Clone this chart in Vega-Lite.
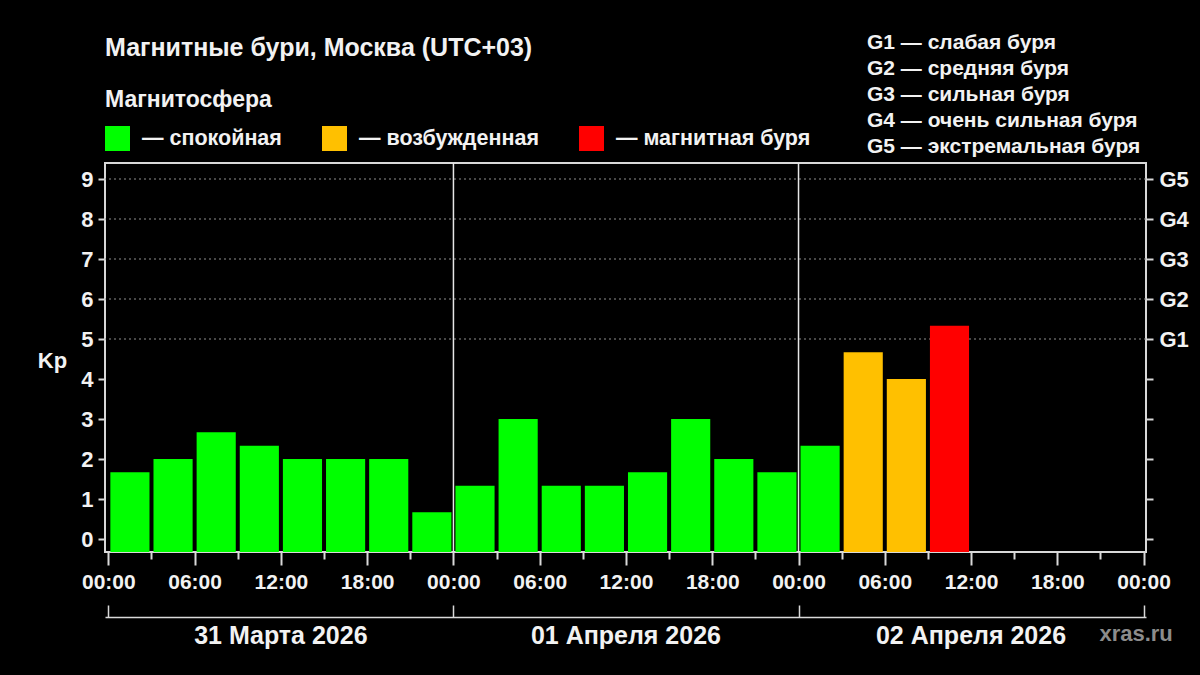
{
  "$schema": "https://vega.github.io/schema/vega-lite/v6.json",
  "width": 1041,
  "height": 389,
  "autosize": {"type": "none"},
  "padding": {"left": 105, "top": 163, "right": 54, "bottom": 123},
  "background": "black",
  "config": {
    "view": {"stroke": "#d9d9d9", "strokeWidth": 2, "fill": "black"},
    "font": "Liberation Sans"
  },
  "title": {
    "text": "Магнитные бури, Москва (UTC+03)",
    "anchor": "start",
    "frame": "group",
    "color": "#f2f2f2",
    "fontSize": 25,
    "fontWeight": "bold",
    "offset": -29
  },
  "resolve": {
    "scale": {"x": "independent", "y": "independent", "color": "independent"},
    "axis": {"x": "independent", "y": "independent"},
    "legend": {"color": "independent"}
  },
  "layer": [
    {
      "data": {"values": [
        {"kp": 5, "g": "G1 — слабая буря"},
        {"kp": 6, "g": "G2 — средняя буря"},
        {"kp": 7, "g": "G3 — сильная буря"},
        {"kp": 8, "g": "G4 — очень сильная буря"},
        {"kp": 9, "g": "G5 — экстремальная буря"}
      ]},
      "mark": {"type": "rule", "strokeDash": [2, 3], "strokeWidth": 1},
      "encoding": {
        "y": {
          "field": "kp", "type": "quantitative",
          "scale": {"domain": [-0.325, 9.4], "nice": false, "zero": false},
          "axis": {
            "orient": "right", "values": [0, 1, 2, 3, 4, 5, 6, 7, 8, 9],
            "labelExpr": "datum.value >= 5 ? 'G' + (datum.value - 4) : ''",
            "domain": false, "grid": false, "tickColor": "#d9d9d9", "tickSize": 7, "tickWidth": 2,
            "labelColor": "#f2f2f2", "labelFontSize": 22, "labelFontWeight": "bold", "labelPadding": 6,
            "labelFlush": false, "labelOverlap": false, "title": null
          }
        },
        "color": {
          "field": "g", "type": "nominal",
          "scale": {"range": ["#909090"]},
          "legend": {
            "orient": "none", "legendX": 741, "legendY": -131, "title": null,
            "direction": "vertical",
            "symbolOpacity": 0, "symbolSize": 1, "symbolStrokeWidth": 0, "labelOffset": 0,
            "labelFontSize": 21, "labelFontWeight": "bold", "labelColor": "#f2f2f2",
            "labelLimit": 400, "rowPadding": 4
          }
        }
      }
    },
    {
      "data": {"values": [
        {"t": "2026-03-31T00:00:00", "t2": "2026-03-31T03:00:00", "kp": 1.67, "state": "— спокойная"},
        {"t": "2026-03-31T03:00:00", "t2": "2026-03-31T06:00:00", "kp": 2.0, "state": "— спокойная"},
        {"t": "2026-03-31T06:00:00", "t2": "2026-03-31T09:00:00", "kp": 2.67, "state": "— спокойная"},
        {"t": "2026-03-31T09:00:00", "t2": "2026-03-31T12:00:00", "kp": 2.33, "state": "— спокойная"},
        {"t": "2026-03-31T12:00:00", "t2": "2026-03-31T15:00:00", "kp": 2.0, "state": "— спокойная"},
        {"t": "2026-03-31T15:00:00", "t2": "2026-03-31T18:00:00", "kp": 2.0, "state": "— спокойная"},
        {"t": "2026-03-31T18:00:00", "t2": "2026-03-31T21:00:00", "kp": 2.0, "state": "— спокойная"},
        {"t": "2026-03-31T21:00:00", "t2": "2026-04-01T00:00:00", "kp": 0.67, "state": "— спокойная"},
        {"t": "2026-04-01T00:00:00", "t2": "2026-04-01T03:00:00", "kp": 1.33, "state": "— спокойная"},
        {"t": "2026-04-01T03:00:00", "t2": "2026-04-01T06:00:00", "kp": 3.0, "state": "— спокойная"},
        {"t": "2026-04-01T06:00:00", "t2": "2026-04-01T09:00:00", "kp": 1.33, "state": "— спокойная"},
        {"t": "2026-04-01T09:00:00", "t2": "2026-04-01T12:00:00", "kp": 1.33, "state": "— спокойная"},
        {"t": "2026-04-01T12:00:00", "t2": "2026-04-01T15:00:00", "kp": 1.67, "state": "— спокойная"},
        {"t": "2026-04-01T15:00:00", "t2": "2026-04-01T18:00:00", "kp": 3.0, "state": "— спокойная"},
        {"t": "2026-04-01T18:00:00", "t2": "2026-04-01T21:00:00", "kp": 2.0, "state": "— спокойная"},
        {"t": "2026-04-01T21:00:00", "t2": "2026-04-02T00:00:00", "kp": 1.67, "state": "— спокойная"},
        {"t": "2026-04-02T00:00:00", "t2": "2026-04-02T03:00:00", "kp": 2.33, "state": "— спокойная"},
        {"t": "2026-04-02T03:00:00", "t2": "2026-04-02T06:00:00", "kp": 4.67, "state": "— возбужденная"},
        {"t": "2026-04-02T06:00:00", "t2": "2026-04-02T09:00:00", "kp": 4.0, "state": "— возбужденная"},
        {"t": "2026-04-02T09:00:00", "t2": "2026-04-02T12:00:00", "kp": 5.33, "state": "— магнитная буря"}
      ]},
      "mark": {"type": "bar", "xOffset": 2, "x2Offset": -2},
      "encoding": {
        "x": {
          "field": "t", "type": "temporal",
          "scale": {"domain": [
            {"year": 2026, "month": 3, "date": 30, "hours": 23, "minutes": 46},
            {"year": 2026, "month": 4, "date": 3, "hours": 0, "minutes": 10}
          ]},
          "axis": {
            "orient": "bottom",
            "labelExpr": "hours(datum.value) % 6 == 0 ? timeFormat(datum.value, '%H:%M') : ''",
            "domain": false, "grid": false, "tickColor": "#d9d9d9", "tickWidth": 2,
            "tickSize": {"condition": {"test": "hours(datum.value) % 6 == 0", "value": 13}, "value": 7},
            "labelFontSize": 21, "labelFontWeight": "bold", "labelColor": "#f2f2f2", "labelPadding": 6,
            "labelFlush": false, "labelOverlap": false, "title": null
          }
        },
        "x2": {"field": "t2"},
        "y": {
          "field": "kp", "type": "quantitative",
          "scale": {"domain": [-0.325, 9.4], "nice": false, "zero": false},
          "axis": {
            "orient": "left", "values": [0, 1, 2, 3, 4, 5, 6, 7, 8, 9],
            "domain": false, "grid": false, "tickColor": "#d9d9d9", "tickSize": 7, "tickWidth": 2,
            "labelFontSize": 22, "labelFontWeight": "bold", "labelColor": "#f2f2f2", "labelPadding": 5,
            "title": "Kp", "titleAngle": 0, "titleX": -53, "titleY": 197, "titleAlign": "center",
            "titleBaseline": "middle", "titleFontSize": 22, "titleFontWeight": "bold", "titleColor": "#f2f2f2"
          }
        },
        "y2": {"datum": -0.325},
        "color": {
          "field": "state", "type": "nominal",
          "scale": {"domain": ["— спокойная", "— возбужденная", "— магнитная буря"], "range": ["#00ff00", "#ffc000", "#ff0000"]},
          "legend": {
            "orient": "none", "legendX": 0, "legendY": -74, "direction": "horizontal",
            "title": "Магнитосфера", "titleFontSize": 23, "titleFontWeight": "bold", "titleColor": "#f2f2f2",
            "titlePadding": 14,
            "symbolType": "square", "symbolSize": 625, "symbolStrokeWidth": 0, "symbolOpacity": 1,
            "labelFontSize": 21.5, "labelFontWeight": "bold", "labelColor": "#f2f2f2",
            "labelOffset": 12, "columnPadding": 40, "labelLimit": 300
          }
        }
      }
    },
    {
      "data": {"values": [
        {"d": "2026-04-01T00:00:00"},
        {"d": "2026-04-02T00:00:00"}
      ]},
      "mark": {"type": "rule", "color": "#e6e6e6", "strokeWidth": 1.5},
      "encoding": {
        "x": {
          "field": "d", "type": "temporal",
          "scale": {"domain": [
            {"year": 2026, "month": 3, "date": 30, "hours": 23, "minutes": 46},
            {"year": 2026, "month": 4, "date": 3, "hours": 0, "minutes": 10}
          ]},
          "axis": {
            "orient": "bottom", "offset": 65,
            "values": [
              {"year": 2026, "month": 3, "date": 31},
              {"year": 2026, "month": 4, "date": 1},
              {"year": 2026, "month": 4, "date": 2},
              {"year": 2026, "month": 4, "date": 3}
            ],
            "labelExpr": "month(datum.value) == 2 ? '31 Марта 2026' : (date(datum.value) == 3 ? 'xras.ru' : timeFormat(datum.value, '%d') + ' Апреля 2026')",
            "labelOffset": {"condition": {"test": "date(datum.value) == 3", "value": -8}, "value": 172},
            "labelColor": {"condition": {"test": "date(datum.value) == 3", "value": "#8c8c8c"}, "value": "#f2f2f2"},
            "labelFontSize": {"condition": {"test": "date(datum.value) == 3", "value": 22}, "value": 25},
            "labelFontWeight": "bold", "labelPadding": 18, "labelLimit": 320,
            "tickSize": -12, "tickColor": "#d9d9d9", "tickWidth": 1.5,
            "domainColor": "#d9d9d9", "domainWidth": 1.5,
            "grid": false, "title": null, "labelFlush": false, "labelOverlap": false
          }
        }
      }
    }
  ]
}
